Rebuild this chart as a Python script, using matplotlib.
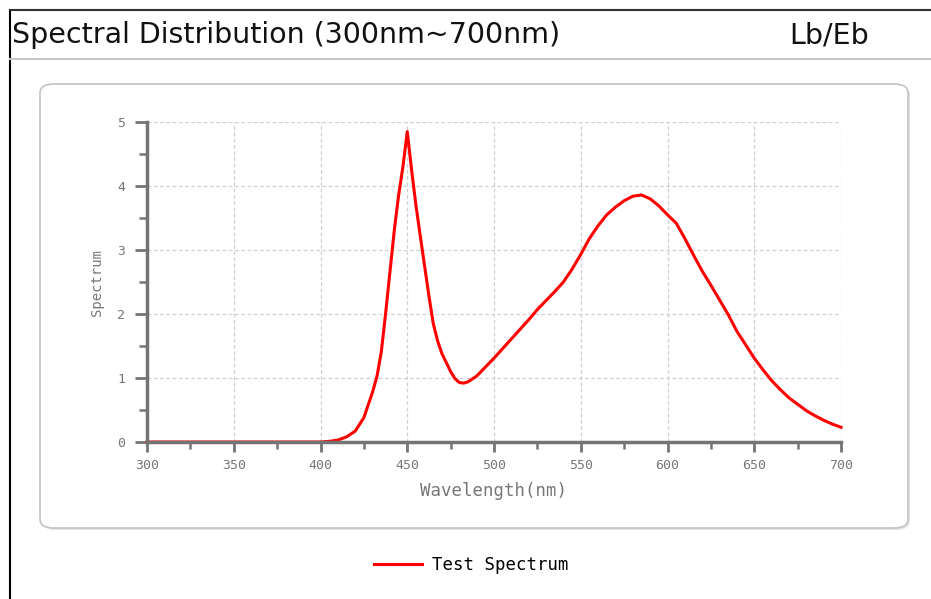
import matplotlib.pyplot as plt
from matplotlib.patches import FancyBboxPatch
from matplotlib.lines import Line2D
import numpy as np

# wavelength (nm) and spectrum value
wavelength = [300, 310, 320, 330, 340, 350, 360, 370, 380, 390, 400,
              405, 410, 415, 420, 425, 430, 432.5, 435, 437.5, 440,
              442.5, 445, 447.5, 450, 452.5, 455, 457.5, 460, 462.5, 465,
              467.5, 470, 472.5, 475, 477.5, 480, 482.5, 485, 490, 495, 500,
              505, 510, 515, 520, 525, 530, 535, 540, 545, 550,
              555, 560, 565, 570, 575, 580, 585, 590, 595, 600,
              605, 610, 615, 620, 625, 630, 635, 640, 645, 650,
              655, 660, 665, 670, 675, 680, 685, 690, 695, 700]
spectrum = [0, 0, 0, 0, 0, 0, 0, 0, 0, 0, 0,
            0.01, 0.03, 0.08, 0.17, 0.38, 0.78, 1.02, 1.40, 2.00, 2.65,
            3.30, 3.85, 4.30, 4.85, 4.25, 3.70, 3.22, 2.75, 2.28, 1.85,
            1.58, 1.38, 1.24, 1.10, 0.99, 0.93, 0.92, 0.94, 1.03, 1.17, 1.31,
            1.46, 1.61, 1.76, 1.91, 2.07, 2.21, 2.35, 2.50, 2.70, 2.93,
            3.18, 3.38, 3.55, 3.67, 3.77, 3.84, 3.86, 3.80, 3.69, 3.55,
            3.42, 3.18, 2.92, 2.67, 2.45, 2.22, 1.99, 1.73, 1.52, 1.31,
            1.13, 0.96, 0.82, 0.69, 0.59, 0.49, 0.41, 0.34, 0.28, 0.23]

x_ticks = [300, 350, 400, 450, 500, 550, 600, 650, 700]
y_ticks = [0, 1, 2, 3, 4, 5]

W, H = 931, 599
fig = plt.figure(figsize=(W / 100, H / 100), dpi=100)

def fx(px):
    return px / W

def fy(py):
    return 1 - py / H

# outer frame and header
fig.add_artist(Line2D([fx(10), fx(10)], [fy(10), 0], color='black', lw=1.5))
fig.add_artist(Line2D([fx(10), 1], [fy(10), fy(10)], color='#333333', lw=1.5))
fig.add_artist(Line2D([fx(10), 1], [fy(59), fy(59)], color='#c8c8c8', lw=1.5))
fig.text(fx(12), fy(35), 'Spectral Distribution (300nm~700nm)', fontsize=20.5,
         family='DejaVu Sans', va='center', ha='left', color='#111111')
fig.text(fx(829), fy(35), 'Lb/Eb', fontsize=20.5, family='DejaVu Sans',
         va='center', ha='center', color='#111111')

# rounded panel
shadow = FancyBboxPatch((fx(42), fy(530)), fx(868), fy(84) - fy(528),
                        boxstyle='round,pad=0,rounding_size=0.015',
                        transform=fig.transFigure, fc='#e4e4e4', ec='none', zorder=0)
panel = FancyBboxPatch((fx(40), fy(528)), fx(868), fy(84) - fy(528),
                       boxstyle='round,pad=0,rounding_size=0.015',
                       transform=fig.transFigure, fc='white', ec='#c4c4c4', lw=1.2, zorder=0)
fig.add_artist(shadow)
fig.add_artist(panel)

ax = fig.add_axes([fx(147), fy(442), fx(841) - fx(147), fy(122) - fy(442)])
ax.set_facecolor('none')
ax.plot(wavelength, spectrum, color='#ff0000', lw=2.2, label='Test Spectrum',
        clip_on=False, solid_joinstyle='round')

ax.set_xlim(300, 700)
ax.set_ylim(0, 5)
ax.set_xticks(x_ticks)
ax.set_yticks(y_ticks)
ax.set_xticks(np.arange(325, 700, 50), minor=True)
ax.set_yticks(np.arange(0.5, 5, 1), minor=True)
ax.grid(True, which='major', ls=(0, (3, 2)), color='#d0d0d0', lw=0.9)

for s in ['top', 'right']:
    ax.spines[s].set_visible(False)
for s in ['left', 'bottom']:
    ax.spines[s].set_color('#747474')
    ax.spines[s].set_linewidth(2.5)

mono = 'DejaVu Sans Mono'
ax.tick_params(which='major', length=7, width=2, color='#747474',
               labelcolor='#777777', labelsize=9.5)
ax.tick_params(which='minor', length=5, width=1.8, color='#747474')
ax.tick_params(axis='x', which='major', pad=5.5)
ax.tick_params(axis='y', which='major', length=8.5, pad=7)
ax.tick_params(axis='y', which='minor', length=5.5)
for lab in ax.get_xticklabels() + ax.get_yticklabels():
    lab.set_family(mono)

ax.set_xlabel('Wavelength(nm)', family=mono, fontsize=12.5, color='#777777', labelpad=7)
ax.set_ylabel('Spectrum', family=mono, fontsize=10, color='#777777', labelpad=10)

fig.legend(loc='center', bbox_to_anchor=(fx(471), fy(565)), frameon=False,
           prop={'family': mono, 'size': 12.5}, handlelength=2.8, handletextpad=0.55)

fig.savefig('out.png', dpi=100)
